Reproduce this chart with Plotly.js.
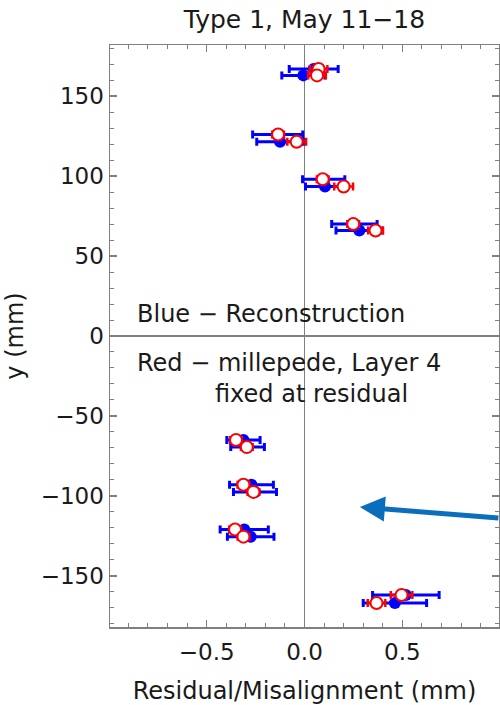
<!DOCTYPE html>
<html>
<head>
<meta charset="utf-8">
<script src="https://cdn.plot.ly/plotly-3.0.1.min.js"></script>
<style>html,body{margin:0;padding:0;background:#fff;}</style>
</head>
<body>
<div id="chart" style="width:500px;height:705px;"></div>
<script>
// y positions of the layers (mm)
const yPos = [167, 163, 126, 121.5, 98, 93.5, 70, 66, -65, -69.5, -93, -97.5, -121, -125.5, -162, -167];
// Blue: reconstruction residuals (mm) and their errors
const blueX   = [0.047, -0.006, -0.137, -0.125, 0.098, 0.105, 0.255, 0.280, -0.312, -0.291, -0.271, -0.253, -0.308, -0.275, 0.518, 0.462];
const blueErr = [0.125, 0.110, 0.128, 0.119, 0.108, 0.100, 0.116, 0.119, 0.085, 0.086, 0.112, 0.110, 0.123, 0.119, 0.170, 0.162];
// Red: millepede misalignments (mm) and their errors
const redX    = [0.072, 0.064, -0.135, -0.040, 0.093, 0.200, 0.249, 0.363, -0.350, -0.295, -0.312, -0.261, -0.355, -0.312, 0.496, 0.368];
const redErr  = [0.045, 0.045, 0.030, 0.048, 0.030, 0.048, 0.030, 0.038, 0.030, 0.030, 0.030, 0.030, 0.030, 0.030, 0.055, 0.045];

const grey = '#808080';
const txt = '#1a1a1a';

const traces = [
  {
    type: 'scatter', mode: 'markers', x: blueX, y: yPos,
    marker: {color: '#0000ff', size: 12, symbol: 'circle'},
    error_x: {type: 'data', array: blueErr, visible: true, color: '#0000ff', thickness: 3, width: 4},
    hoverinfo: 'x+y', showlegend: false
  },
  {
    type: 'scatter', mode: 'markers', x: redX, y: yPos,
    marker: {color: '#ffffff', size: 12, symbol: 'circle', line: {color: '#ff0000', width: 2}},
    error_x: {type: 'data', array: redErr, visible: true, color: '#ff0000', thickness: 2.5, width: 4},
    hoverinfo: 'x+y', showlegend: false
  }
];

const axisCommon = {
  ticks: 'inside', ticklen: 7, tickwidth: 1.5, tickcolor: grey,
  showline: true, linecolor: grey, linewidth: 1.5, mirror: 'allticks',
  showgrid: false, zeroline: true, zerolinecolor: grey, zerolinewidth: 1.5,
  tickfont: {family: 'DejaVu Sans', size: 23, color: txt}
};

const layout = {
  width: 500, height: 705,
  margin: {l: 110, r: 1, t: 45, b: 78},
  paper_bgcolor: '#ffffff', plot_bgcolor: '#ffffff',
  font: {family: 'DejaVu Sans', size: 24, color: txt},
  showlegend: false,
  title: {
    text: 'Type 1, May 11−18', font: {family: 'DejaVu Sans', size: 25, color: txt},
    x: 0.5, xref: 'paper', xanchor: 'center', y: 1 - 19/705, yref: 'container', yanchor: 'middle'
  },
  xaxis: Object.assign({}, axisCommon, {
    range: [-0.994, 0.994], tickmode: 'linear', tick0: 0, dtick: 0.5, tickformat: '.1f',
    ticklabelstandoff: 4,
    minor: {tickmode: 'linear', tick0: 0, dtick: 0.1, ticks: 'inside', ticklen: 4, tickwidth: 1, tickcolor: grey, showgrid: false},
    title: {text: 'Residual/Misalignment (mm)', font: {family: 'DejaVu Sans', size: 24, color: txt}, standoff: 18}
  }),
  yaxis: Object.assign({}, axisCommon, {
    range: [-182, 182], tickmode: 'linear', tick0: 0, dtick: 50,
    minor: {tickmode: 'linear', tick0: 0, dtick: 10, ticks: 'inside', ticklen: 4, tickwidth: 1, tickcolor: grey, showgrid: false},
    title: {text: 'y (mm)', font: {family: 'DejaVu Sans', size: 24, color: txt}, standoff: 10}
  }),
  annotations: [
    {xref: 'x', yref: 'y', x: -0.866, y: 14, text: 'Blue − Reconstruction', showarrow: false,
     xanchor: 'left', yanchor: 'middle', font: {family: 'DejaVu Sans', size: 24, color: txt}},
    {xref: 'x', yref: 'y', x: -0.866, y: -17, text: 'Red − millepede, Layer 4', showarrow: false,
     xanchor: 'left', yanchor: 'middle', font: {family: 'DejaVu Sans', size: 24, color: txt}},
    {xref: 'x', yref: 'y', x: -0.47, y: -36, text: 'fixed at residual', showarrow: false,
     xanchor: 'left', yanchor: 'middle', font: {family: 'DejaVu Sans', size: 24, color: txt}},
    {xref: 'x', yref: 'y', x: 0.283, y: -107, text: '', showarrow: true,
     axref: 'pixel', ayref: 'pixel', ax: 140, ay: 11,
     arrowcolor: '#0a6ebd', arrowwidth: 5, arrowhead: 2, arrowsize: 1, standoff: 0, startstandoff: 0}
  ]
};

Plotly.newPlot('chart', traces, layout, {staticPlot: true, displayModeBar: false});
</script>
</body>
</html>
